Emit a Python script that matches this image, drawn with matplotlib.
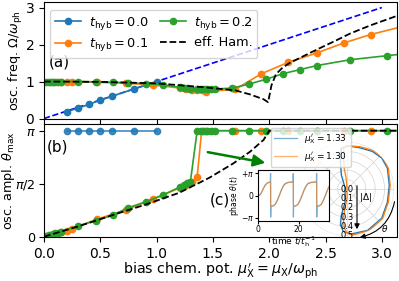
import numpy as np
import matplotlib.pyplot as plt
from matplotlib.patches import FancyArrowPatch

# ---- data ----
# t_hyb = 0.0
mu_0 = [0.2, 0.3, 0.4, 0.5, 0.6, 0.8, 1.0]
freq_0 = [0.18, 0.28, 0.38, 0.5, 0.6, 0.8, 1.0]
ampl_0 = [np.pi] * 7

# t_hyb = 0.1
mu_1 = [0.15, 0.2, 0.25, 0.47, 0.73, 0.97, 1.21, 1.26, 1.31, 1.36, 1.40, 1.44,
        1.7, 1.93, 2.17, 2.42, 2.66, 2.9, 3.2]
freq_1 = [1.0, 1.0, 0.99, 0.98, 0.95, 0.91, 0.82, 0.80, 0.78, 0.77, 0.76, 0.73,
          0.79, 1.21, 1.52, 1.77, 2.04, 2.27, 2.5]
ampl_1 = [0.13, 0.18, 0.23, 0.52, 0.79, 1.12, 1.45, 1.53, 1.62, 1.78, np.pi, np.pi,
          np.pi, np.pi, np.pi, np.pi, np.pi, np.pi, np.pi]

# t_hyb = 0.2
mu_2 = [0.02, 0.04, 0.06, 0.08, 0.1, 0.12, 0.15, 0.3, 0.46, 0.61, 0.75, 0.91, 1.06,
        1.21, 1.24, 1.27, 1.30, 1.36, 1.39, 1.42, 1.45, 1.48, 1.52,
        1.67, 1.82, 1.97, 2.12, 2.27, 2.42, 2.72, 3.05, 3.35]
freq_2 = [1.0, 1.0, 1.0, 1.0, 1.0, 1.0, 1.0, 1.0, 0.99, 0.98, 0.97, 0.94, 0.91,
          0.84, 0.83, 0.82, 0.81, 0.80, 0.80, 0.80, 0.80, 0.80, 0.80,
          0.82, 0.93, 1.06, 1.21, 1.32, 1.43, 1.59, 1.70, 1.80]
ampl_2 = [0.02, 0.04, 0.06, 0.08, 0.1, 0.12, 0.15, 0.32, 0.47, 0.64, 0.86, 1.04, 1.24,
          1.48, 1.53, 1.58, 1.63] + [np.pi] * 15

# effective Hamiltonian
mu_eff_a = [0.0, 0.5, 1.0, 1.2, 1.44, 1.6, 1.7, 1.83, 1.95, 1.99, 2.02, 2.06, 2.12,
            2.18, 2.3, 2.42, 2.6, 2.72, 2.9, 3.13]
freq_eff = [1.0, 0.99, 0.95, 0.9, 0.84, 0.79, 0.76, 0.65, 0.52, 0.44, 0.9, 1.2, 1.38,
            1.5, 1.68, 1.86, 2.12, 2.3, 2.52, 2.77]
mu_eff_b = [0.0, 0.3, 0.6, 0.9, 1.2, 1.47, 1.68, 1.83, 1.95, 2.0, 3.13]
ampl_eff = [0.0, 0.3, 0.63, 0.95, 1.3, 1.75, 2.17, 2.52, 2.87, np.pi, np.pi]

# inset: phase vs time
t_org = [0, 0.7, 1.5, 2.5, 3.5, 4.5, 5.5, 6.2, 6.25, 7.5, 8.5, 9.5, 10.5, 11.5, 12.5,
         13.5, 15, 17.4, 17.45, 18.7, 19.7, 20.7, 21.7, 22.7, 23.7, 24.7, 26.2, 28.9,
         28.95, 30.2, 31.2, 32.2, 33.2, 34.2, 35.2]
th_org = [0, 0.02, 0.3, 0.9, 1.45, 1.75, 1.87, 1.9, -1.48, -1.45, -1.25, -0.7, 0.0,
          0.75, 1.35, 1.7, 1.85, 1.9, -1.48, -1.45, -1.25, -0.7, 0.0, 0.75, 1.35,
          1.7, 1.85, 1.9, -1.48, -1.45, -1.25, -0.7, 0.0, 0.75, 1.35]
t_blu = [0, 0.7, 1.5, 2.5, 3.5, 4.5, 5.5, 6.1, 6.2, 6.25, 6.35, 7.5, 8.5, 9.5, 10.5,
         11.5, 12.5, 13.5, 15, 17.3, 17.4, 17.45, 17.55, 18.7, 19.7, 20.7, 21.7, 22.7,
         23.7, 24.7, 26.2, 28.8, 28.9, 28.95, 29.05, 30.2, 31.2, 32.2, 33.2, 34.2, 35.2]
th_blu = [0, 0.02, 0.3, 0.9, 1.45, 1.75, 1.87, 1.95, 3.1, -3.05, -1.55, -1.47, -1.25,
          -0.7, 0.0, 0.75, 1.35, 1.7, 1.85, 1.95, 3.1, -3.05, -1.55, -1.47, -1.25,
          -0.7, 0.0, 0.75, 1.35, 1.7, 1.85, 1.95, 3.1, -3.05, -1.55, -1.47, -1.25,
          -0.7, 0.0, 0.75, 1.35]

# inset: order parameter trajectory (Re, Im of Delta)
re_org = [0.0, -0.03, -0.04, -0.03, -0.01, 0.0, 0.0, -0.02, -0.04, -0.03, 0.0, 0.06,
          0.24, 0.38, 0.44, 0.46, 0.44, 0.38, 0.28, 0.14, 0.01, -0.02]
im_org = [0.46, 0.44, 0.36, 0.22, 0.12, 0.01, -0.10, -0.20, -0.31, -0.41, -0.47, -0.49,
          -0.44, -0.31, -0.14, 0.04, 0.22, 0.34, 0.41, 0.45, 0.46, 0.45]
re_blu = [0.0, -0.06, -0.07, -0.06, -0.02, -0.02, -0.06, -0.07, -0.04, 0.04,
          0.22, 0.37, 0.43, 0.45, 0.43, 0.37, 0.27, 0.13, 0.0]
im_blu = [0.46, 0.43, 0.29, 0.15, 0.01, -0.14, -0.28, -0.38, -0.45, -0.48,
          -0.44, -0.31, -0.14, 0.04, 0.22, 0.33, 0.40, 0.44, 0.46]
r_ticks = [0.0, 0.1, 0.2, 0.3, 0.4, 0.5]

plt.rcParams['font.size'] = 10

fig = plt.figure(figsize=(3.99, 2.81), dpi=100)
W, H = 399.0, 281.0
ax1 = fig.add_axes([44 / W, (H - 118.5) / H, 352.5 / W, 116.5 / H])
ax2 = fig.add_axes([44 / W, (H - 237) / H, 352.5 / W, 113.5 / H])

# (a) frequency
ax1.plot([0, 3.0], [0, 3.0], '--', color='blue', lw=1.2)
ax1.plot(mu_0, freq_0, 'o-', color='tab:blue', ms=4.5, lw=1.2, label=r'$t_{\rm hyb}=0.0$')
ax1.plot(mu_1, freq_1, 'o-', color='tab:orange', ms=4.5, lw=1.2, label=r'$t_{\rm hyb}=0.1$')
ax1.plot(mu_2, freq_2, 'o-', color='tab:green', ms=4.5, lw=1.2, label=r'$t_{\rm hyb}=0.2$')
ax1.plot(mu_eff_a, freq_eff, 'k--', lw=1.3, label='eff. Ham.')
ax1.set_xlim(0, 3.13)
ax1.set_ylim(0, 3.15)
ax1.set_yticks([0, 1, 2, 3])
ax1.set_xticks([0, 0.5, 1.0, 1.5, 2.0, 2.5, 3.0])
ax1.tick_params(labelbottom=False)
ax1.set_ylabel(r'osc. freq. $\Omega/\omega_{\rm ph}$', fontsize=9.2)
ax1.yaxis.set_label_coords(-0.055, 0.5)
ax1.text(0.14, 1.52, '(a)', fontsize=11, ha='center', va='center')
ax1.legend(ncol=2, loc='upper left', bbox_to_anchor=(0.017, 0.935), borderaxespad=0,
           fontsize=9.3, handlelength=2.0, columnspacing=0.9, handletextpad=0.6,
           labelspacing=0.35)

# (b) amplitude
ax2.plot(mu_0, ampl_0, 'o-', color='tab:blue', ms=4.5, lw=1.2, alpha=0.85)
ax2.plot(mu_1, ampl_1, 'o-', color='tab:orange', ms=4.5, lw=1.2)
ax2.plot(mu_2, ampl_2, 'o-', color='tab:green', ms=4.5, lw=1.2)
ax2.plot(mu_eff_b, ampl_eff, 'k--', lw=1.3)
ax2.set_xlim(0, 3.13)
ax2.set_ylim(-0.01, 3.355)
ax2.set_yticks([0, np.pi / 2, np.pi])
ax2.set_yticklabels(['0', r'$\pi/2$', r'$\pi$'], fontsize=9.2)
ax2.tick_params(axis='y', pad=2.5)
ax2.set_xticks([0, 0.5, 1.0, 1.5, 2.0, 2.5, 3.0])
ax2.set_xlabel(r"bias chem. pot. $\mu_{\rm X}' = \mu_{\rm X}/\omega_{\rm ph}$",
               fontsize=10.3, labelpad=0)
ax2.set_ylabel(r'osc. ampl. $\theta_{\rm max}$', fontsize=9.2)
ax2.yaxis.set_label_coords(-0.076, 0.5)
ax2.text(0.12, 2.67, '(b)', fontsize=11, ha='center', va='center')
ax2.text(1.56, 1.09, '(c)', fontsize=11, ha='center', va='center')
ax2.annotate('', xy=(1.99, 2.175), xytext=(1.43, 2.52),
             arrowprops=dict(arrowstyle='-|>,head_width=0.35,head_length=0.7',
                             color='green', lw=1.8))

# polar inset
axp = fig.add_axes([300 / W, (H - 236) / H, 94 / W, 94 / H], projection='polar')
axp.set_facecolor('none')
axp.plot(np.arctan2(im_blu, re_blu), np.hypot(re_blu, im_blu), color='tab:blue', lw=1.0)
axp.plot(np.arctan2(im_org, re_org), np.hypot(re_org, im_org), color='tab:orange', lw=0.9)
axp.set_rlim(0, 0.5)
axp.set_rticks(r_ticks)
axp.set_yticklabels([])
axp.set_xticklabels([])
axp.grid(color='0.85', lw=0.6)
axp.spines['polar'].set_visible(False)
for r in r_ticks:
    axp.text(-np.pi / 2, r, '%.1f' % r, fontsize=6, ha='center', va='center')

fig.add_artist(FancyArrowPatch(
    (357 / W, (H - 183) / H), (357 / W, (H - 232) / H), transform=fig.transFigure,
    arrowstyle='-|>,head_width=1.5,head_length=3', color='black', lw=0.8))
fig.text(366 / W, (H - 197) / H, r'$|\Delta|$', fontsize=6.5, ha='center', va='center')
fig.add_artist(FancyArrowPatch(
    (395 / W, (H - 199) / H), (357 / W, (H - 238) / H), transform=fig.transFigure,
    connectionstyle='arc3,rad=-0.35',
    arrowstyle='-|>,head_width=1.5,head_length=3', color='black', lw=0.8))
fig.text(385 / W, (H - 229) / H, r'$\theta$', fontsize=6.5, ha='center', va='center')

# time-series inset
axt = fig.add_axes([258 / W, (H - 221) / H, 71 / W, 51 / H])
axt.plot(t_blu, th_blu, color='tab:blue', lw=0.9, alpha=0.6, label=r"$\mu_{\rm X}'=1.33$")
axt.plot(t_org, th_org, color='tab:orange', lw=0.9, alpha=0.6, label=r"$\mu_{\rm X}'=1.30$")
axt.set_xlim(0, 35)
axt.set_ylim(-1.15 * np.pi, 1.15 * np.pi)
axt.set_xticks([0, 20])
axt.set_yticks([-np.pi, 0, np.pi])
axt.set_yticklabels([r'$-\pi$', '0', r'$+\pi$'])
axt.tick_params(labelsize=5.5, pad=1, length=2)
axt.set_xlabel(r'time $t/t_{\rm h}^{-1}$', fontsize=6.5, labelpad=0)
axt.set_ylabel(r'phase $\theta(t)$', fontsize=5.5, labelpad=0)
axt.legend(loc='lower left', bbox_to_anchor=(0.14, 1.0), fontsize=6.5,
           handlelength=2.5, borderaxespad=0.3, framealpha=0.8)

fig.savefig('out.png', dpi=100)
